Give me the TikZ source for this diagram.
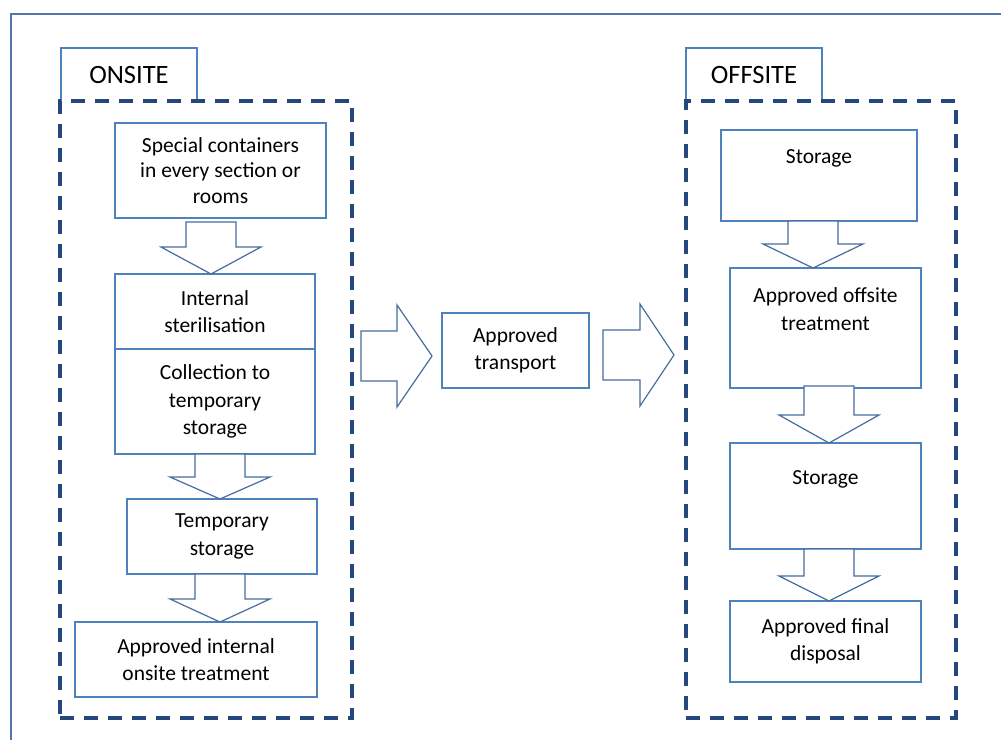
\documentclass[tikz,border=0pt]{standalone}
\usepackage{fontspec}
\setmainfont{Carlito}
\usetikzlibrary{calc}
\definecolor{boxblue}{RGB}{79,129,189}
\definecolor{arrowc}{RGB}{70,108,160}
\definecolor{dashc}{RGB}{36,72,125}
\definecolor{framec}{RGB}{84,118,168}
\tikzset{
  box/.style={draw=boxblue, line width=1.2pt, fill=white, inner sep=0pt, outer sep=0pt, anchor=north west, align=center, font=\fontsize{21.5}{27.5}\selectfont},
  dashbox/.style={draw=dashc, line width=3.2pt, dash pattern=on 14pt off 10pt, inner sep=0pt, outer sep=0pt, anchor=north west},
  tab/.style={inner sep=0pt, outer sep=0pt, anchor=north west, minimum width=136pt, minimum height=53pt, font=\fontsize{26.5}{30}\selectfont},
  tabline/.style={draw=boxblue, line width=1.2pt},
  blockarrow/.style={draw=arrowc, line width=1.2pt, fill=white, line join=miter},
  txt/.style={inner sep=0pt, align=center, font=\fontsize{21.5}{28}\selectfont},
  framel/.style={draw=framec, line width=1.8pt}
}
% vertical block arrow: x-centre, source, target, head length, top offset
\newcommand{\varrow}[5]{%
  \draw[blockarrow] ($(#1,0 |- #2.south)+(-25,#5)$) -- ($(#1,0 |- #3.north)+(-25,-#4)$) -- ($(#1,0 |- #3.north)+(-50,-#4)$) -- (#1,0 |- #3.north) -- ($(#1,0 |- #3.north)+(50,-#4)$) -- ($(#1,0 |- #3.north)+(25,-#4)$) -- ($(#1,0 |- #2.south)+(25,#5)$) -- cycle;}
% horizontal block arrow: y-centre, source, target, gap at source, gap at target, head length
\newcommand{\harrow}[6]{%
  \draw[blockarrow] ($(#2.east |- 0,#1)+(#4,-25)$) -- ($(#3.west |- 0,#1)+(-#5-#6,-25)$) -- ($(#3.west |- 0,#1)+(-#5-#6,-51)$) -- ($(#3.west |- 0,#1)+(-#5,0)$) -- ($(#3.west |- 0,#1)+(-#5-#6,51)$) -- ($(#3.west |- 0,#1)+(-#5-#6,25)$) -- ($(#2.east |- 0,#1)+(#4,25)$) -- cycle;}
\begin{document}
\begin{tikzpicture}[x=1pt,y=-1pt]
\useasboundingbox (0,0) rectangle (1001,740);
\fill[white] (0,0) rectangle (1001,740);
% outer frame
\draw[framel] (11,740) -- (11,14) -- (1001,14);

% ONSITE group
\node[tab] (ontab) at (61,48) {ONSITE};
\draw[tabline] (ontab.south west) -- (ontab.north west) -- (ontab.north east) -- (ontab.south east);
\node[dashbox, minimum width=292pt, minimum height=617pt] (onsite) at (60,101) {};

\node[box, minimum width=211pt, minimum height=95pt, font=\fontsize{21.5}{25.5}\selectfont] (b1) at (115,123) {Special containers\\in every section or\\rooms};
\node[box, minimum width=200pt, minimum height=75pt] (b2) at (115,274) {Internal\\sterilisation};
\node[box, minimum width=200pt, minimum height=105pt] (b3) at (115,349) {Collection to\\temporary\\storage};
\node[box, minimum width=190pt, minimum height=75pt] (b4) at (127,499) {Temporary\\storage};
\node[box, minimum width=242pt, minimum height=75pt] (b5) at (75,622) {Approved internal\\onsite treatment};

\varrow{211}{b1}{b2}{27}{4}
\varrow{220}{b3}{b4}{22}{0}
\varrow{220}{b4}{b5}{23}{0}

% middle
\node[box, minimum width=147pt, minimum height=75pt] (tr) at (442,313) {Approved\\transport};

% OFFSITE group
\node[tab] (offtab) at (686,48) {OFFSITE};
\draw[tabline] (offtab.south west) -- (offtab.north west) -- (offtab.north east) -- (offtab.south east);
\node[dashbox, minimum width=270pt, minimum height=617pt] (offsite) at (686,101) {};

\node[box, minimum width=196pt, minimum height=91pt] (s1) at (721,130) {};
\node[txt, anchor=north] (s1t) at ($(s1.north)+(0,19)$) {Storage};
\node[box, minimum width=191pt, minimum height=120pt] (ot) at (730,268) {};
\node[txt, anchor=north] (ott) at ($(ot.north)+(0,19)$) {Approved offsite\\treatment};
\node[box, minimum width=191pt, minimum height=106pt] (s2) at (730,443) {};
\node[txt, anchor=north] (s2t) at ($(s2.north)+(0,27)$) {Storage};
\node[box, minimum width=191pt, minimum height=81pt] (fd) at (730,601) {Approved final\\disposal};

\varrow{813}{s1}{ot}{24}{0}
\varrow{829}{ot}{s2}{28}{-2}
\varrow{829}{s2}{fd}{25}{0}

% horizontal arrows
\harrow{356}{onsite}{tr}{9}{10}{35}
\harrow{355}{tr}{offsite}{14}{12}{34}
\end{tikzpicture}
\end{document}
